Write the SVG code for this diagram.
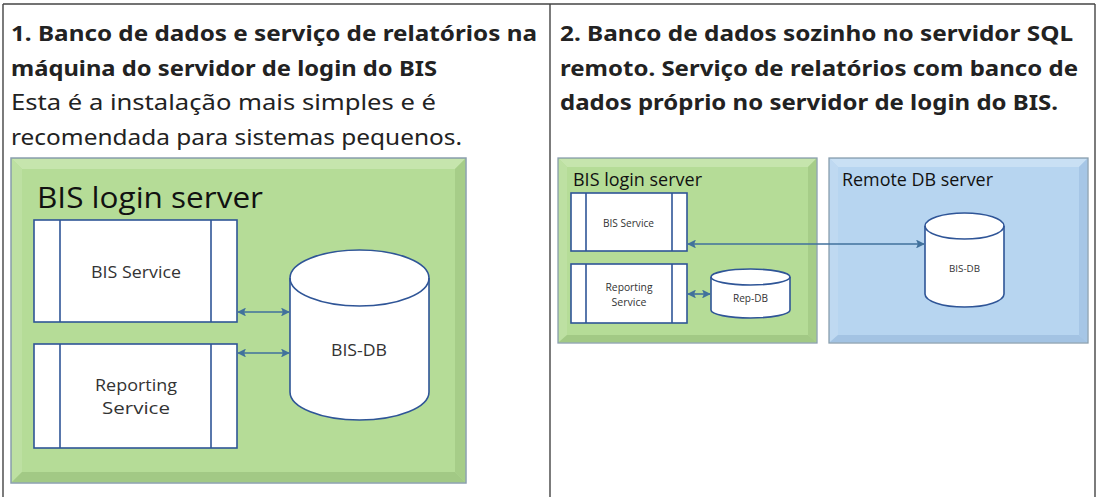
<svg xmlns="http://www.w3.org/2000/svg" width="1100" height="497" viewBox="0 0 1100 497">
<style>
.hd{font-family:"Noto Sans","Open Sans",sans-serif;font-weight:bold;font-size:21px;fill:#222}
.bd{font-family:"Noto Sans","Open Sans",sans-serif;font-size:21px;fill:#222}
.tl{font-family:"Open Sans","Noto Sans",sans-serif;fill:#111}
.lb{font-family:"Open Sans","Noto Sans",sans-serif;fill:#333;text-anchor:middle}
.svc{fill:#fff;stroke:#2f5597;stroke-width:1.6}
.db{fill:#fff;stroke:#2f5597;stroke-width:1.6}
.ln{stroke:#2f5597;stroke-width:1.6;fill:none}
.con{stroke:#41719c;stroke-width:1.6;fill:none;marker-start:url(#ah);marker-end:url(#ah)}
.frame{stroke:#444;stroke-width:1.4;fill:none}
</style>
<defs>
<marker id="ah" viewBox="0 0 10 10" refX="9" refY="5" markerWidth="5.5" markerHeight="5.5" orient="auto-start-reverse" markerUnits="strokeWidth">
<path d="M0,0 L10,5 L0,10 L2,5 z" fill="#41719c"/>
</marker>
</defs>

<g id="table">
<line class="frame" x1="3" y1="4" x2="1095" y2="4"/>
<line class="frame" x1="3" y1="4" x2="3" y2="497"/>
<line class="frame" x1="550" y1="4" x2="550" y2="497"/>
<line class="frame" x1="1095" y1="4" x2="1095" y2="497"/>
</g>

<g id="heading1">
<text class="hd" x="11" y="41" textLength="526" lengthAdjust="spacingAndGlyphs">1. Banco de dados e serviço de relatórios na</text>
<text class="hd" x="11" y="76" textLength="426" lengthAdjust="spacingAndGlyphs">máquina do servidor de login do BIS</text>
<text class="bd" x="11" y="110" textLength="425" lengthAdjust="spacingAndGlyphs">Esta é a instalação mais simples e é</text>
<text class="bd" x="11" y="145" textLength="451" lengthAdjust="spacingAndGlyphs">recomendada para sistemas pequenos.</text>
</g>
<g id="heading2">
<text class="hd" x="560" y="41" textLength="513" lengthAdjust="spacingAndGlyphs">2. Banco de dados sozinho no servidor SQL</text>
<text class="hd" x="560" y="76" textLength="518" lengthAdjust="spacingAndGlyphs">remoto. Serviço de relatórios com banco de</text>
<text class="hd" x="560" y="110" textLength="498" lengthAdjust="spacingAndGlyphs">dados próprio no servidor de login do BIS.</text>
</g>

<!-- Left diagram -->
<g id="left-server">
<rect x="11" y="158" width="455" height="325" fill="#b3da95" stroke="#8a9fae" stroke-width="1.5"/>
<polygon points="12,159 465,159 455,169 22,169" fill="#c6e5ad"/>
<polygon points="12,159 22,169 22,472 12,482" fill="#bde0a2"/>
<polygon points="465,159 465,482 455,472 455,169" fill="#a6cd88"/>
<polygon points="12,482 465,482 455,472 22,472" fill="#a2c985"/>
<rect x="22" y="169" width="433" height="303" fill="#b5dc97"/>
<text class="tl" x="37" y="208" font-size="30" textLength="226" lengthAdjust="spacingAndGlyphs">BIS login server</text>
</g>
<g id="left-bis-service">
<rect class="svc" x="34" y="220" width="203" height="102"/>
<line class="ln" x1="60" y1="220" x2="60" y2="322"/>
<line class="ln" x1="211" y1="220" x2="211" y2="322"/>
<text class="lb" x="136" y="278" font-size="16.5" textLength="90" lengthAdjust="spacingAndGlyphs">BIS Service</text>
</g>
<g id="left-reporting-service">
<rect class="svc" x="34" y="344" width="203" height="104"/>
<line class="ln" x1="60" y1="344" x2="60" y2="448"/>
<line class="ln" x1="211" y1="344" x2="211" y2="448"/>
<text class="lb" x="136" y="391" font-size="16.5" textLength="82" lengthAdjust="spacingAndGlyphs">Reporting</text>
<text class="lb" x="136" y="414" font-size="16.5" textLength="68" lengthAdjust="spacingAndGlyphs">Service</text>
</g>
<g id="left-bis-db">
<path class="db" d="M290,278 A69.5,28 0 0,1 429,278 L429,392 A69.5,28 0 0,1 290,392 Z"/>
<path class="ln" d="M290,278 A69.5,28 0 0,0 429,278"/>
<text class="lb" x="359" y="356" font-size="16.5" textLength="56" lengthAdjust="spacingAndGlyphs">BIS-DB</text>
</g>

<!-- Right diagram -->
<g id="right-server">
<rect x="558" y="158" width="259" height="185" fill="#b3da95" stroke="#8a9fae" stroke-width="1.3"/>
<polygon points="559,159 816,159 808,167 567,167" fill="#c6e5ad"/>
<polygon points="559,159 567,167 567,335 559,342" fill="#bde0a2"/>
<polygon points="816,159 816,342 808,335 808,167" fill="#a6cd88"/>
<polygon points="559,342 816,342 808,335 567,335" fill="#a2c985"/>
<rect x="567" y="167" width="241" height="168" fill="#b5dc97"/>
<text class="tl" x="573" y="186" font-size="17.5" textLength="129" lengthAdjust="spacingAndGlyphs">BIS login server</text>
</g>
<g id="remote-server">
<rect x="829" y="158" width="259" height="185" fill="#b5d3ef" stroke="#8a9fae" stroke-width="1.3"/>
<polygon points="830,159 1087,159 1079,167 838,167" fill="#c9e0f4"/>
<polygon points="830,159 838,167 838,335 830,342" fill="#bfd9f1"/>
<polygon points="1087,159 1087,342 1079,335 1079,167" fill="#a6c6e6"/>
<polygon points="830,342 1087,342 1079,335 838,335" fill="#a3c3e3"/>
<rect x="838" y="167" width="241" height="168" fill="#b7d5f0"/>
<text class="tl" x="842" y="186" font-size="17.5" textLength="151" lengthAdjust="spacingAndGlyphs">Remote DB server</text>
</g>
<g id="right-bis-service">
<rect class="svc" x="571" y="193" width="116" height="58" stroke-width="1.2"/>
<line class="ln" x1="586" y1="193" x2="586" y2="251" stroke-width="1.2"/>
<line class="ln" x1="672" y1="193" x2="672" y2="251" stroke-width="1.2"/>
<text class="lb" x="628.5" y="227" font-size="10" textLength="51" lengthAdjust="spacingAndGlyphs">BIS Service</text>
</g>
<g id="right-reporting-service">
<rect class="svc" x="571" y="264" width="116" height="59" stroke-width="1.2"/>
<line class="ln" x1="586" y1="264" x2="586" y2="323" stroke-width="1.2"/>
<line class="ln" x1="672" y1="264" x2="672" y2="323" stroke-width="1.2"/>
<text class="lb" x="629" y="291" font-size="10" textLength="47" lengthAdjust="spacingAndGlyphs">Reporting</text>
<text class="lb" x="629" y="306" font-size="10" textLength="35" lengthAdjust="spacingAndGlyphs">Service</text>
</g>
<g id="rep-db">
<path class="db" stroke-width="1.2" d="M711,277 A39.5,8 0 0,1 790,277 L790,310 A39.5,8 0 0,1 711,310 Z"/>
<path class="ln" stroke-width="1.2" d="M711,277 A39.5,8 0 0,0 790,277"/>
<text class="lb" x="750.5" y="302" font-size="10" textLength="35" lengthAdjust="spacingAndGlyphs">Rep-DB</text>
</g>
<g id="right-bis-db">
<path class="db" stroke-width="1.2" d="M925,226 A39.5,13 0 0,1 1004,226 L1004,294 A39.5,13 0 0,1 925,294 Z"/>
<path class="ln" stroke-width="1.2" d="M925,226 A39.5,13 0 0,0 1004,226"/>
<text class="lb" x="964.5" y="272" font-size="9.5" textLength="31" lengthAdjust="spacingAndGlyphs">BIS-DB</text>
</g>

<g id="connectors">
<line class="con" x1="238" y1="312" x2="289" y2="312"/>
<line class="con" x1="238" y1="353" x2="289" y2="353"/>
<line class="con" x1="688" y1="294" x2="710" y2="294" stroke-width="1.3"/>
<line class="con" x1="688" y1="244" x2="924" y2="244" stroke-width="1.3"/>
</g>
</svg>
